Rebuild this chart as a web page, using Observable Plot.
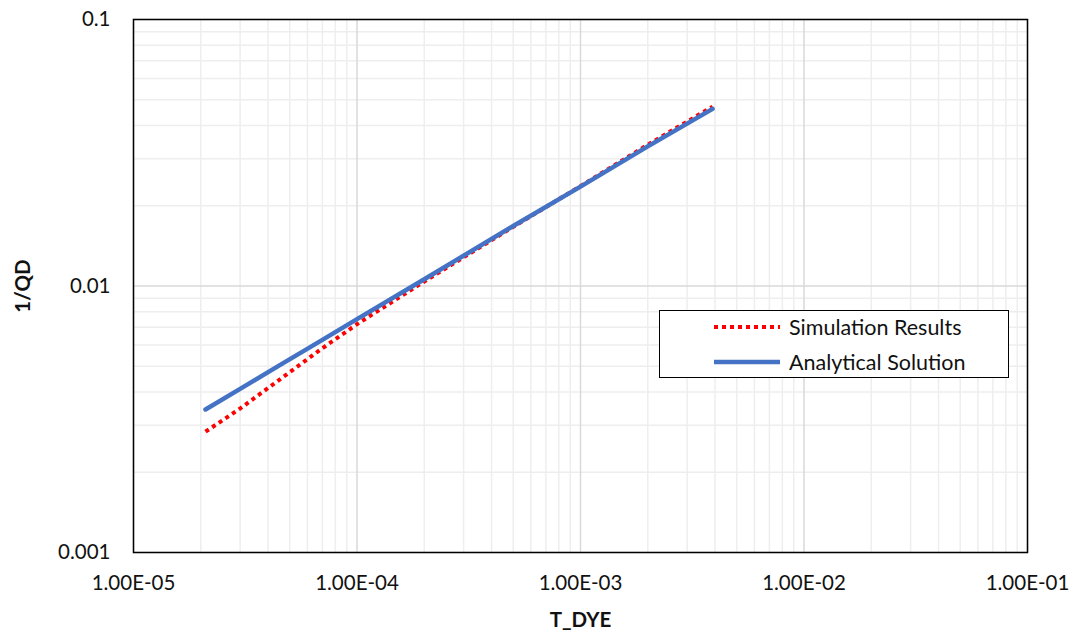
<!DOCTYPE html>
<html>
<head>
<meta charset="utf-8">
<script src="https://cdn.jsdelivr.net/npm/d3@7"></script>
<script src="https://cdn.jsdelivr.net/npm/@observablehq/plot@0.6"></script>
<style>
  body { margin: 0; background: #fff; font-family: Lato, "Open Sans", sans-serif; }
  #wrap { position: relative; width: 1076px; height: 635px; }
  #chart svg g[aria-label="x-axis label"] text,
  #chart svg g[aria-label="y-axis label"] text { font-weight: bold; font-size: 20.5px; }
  #legend { position: absolute; left: 659px; top: 310px; width: 348px; height: 66px;
            border: 1.5px solid #000; background: #fff; font-size: 21.5px; color: #111; }
  .row { position: absolute; left: 54px; display: flex; align-items: center; }
  .row svg { margin-right: 9px; }
</style>
</head>
<body>
<div id="wrap">
  <div id="chart"></div>
  <div id="legend">
    <div class="row" style="top:3px"><svg width="66" height="24"><line x1="0" y1="12" x2="66" y2="12" stroke="#ff0000" stroke-width="4" stroke-dasharray="4 4"/></svg><span id="lg0"></span></div>
    <div class="row" style="top:38px"><svg width="66" height="24"><line x1="0" y1="12" x2="66" y2="12" stroke="#4472c4" stroke-width="4.5"/></svg><span id="lg1"></span></div>
  </div>
</div>
<script>
// Series names
const seriesNames = ["Simulation Results", "Analytical Solution"];

// Simulation results (T_DYE, 1/QD)
const simT = [2.1e-5, 3e-5, 4.4e-5, 7e-5, 1e-4, 2e-4, 5e-4, 1e-3, 2e-3, 3.9e-3];
const simQ = [0.00284, 0.00347, 0.00439, 0.00584, 0.00719, 0.0104, 0.01667, 0.0237, 0.0339, 0.0471];

// Analytical solution
const anaT = [2.1e-5, 3e-5, 4.4e-5, 7e-5, 1e-4, 2e-4, 5e-4, 1e-3, 2e-3, 3.9e-3];
const anaQ = [0.00344, 0.00411, 0.00498, 0.00628, 0.00751, 0.0106, 0.0168, 0.0236, 0.0334, 0.0462];

// Axis ticks
const xTicks = [1e-5, 1e-4, 1e-3, 1e-2, 1e-1];
const xTickLabels = ["1.00E-05", "1.00E-04", "1.00E-03", "1.00E-02", "1.00E-01"];
const yTicks = [0.001, 0.01, 0.1];
const yTickLabels = ["0.001", "0.01", "0.1"];
const minorMult = [2, 3, 4, 5, 6, 7, 8, 9];

const xMinor = xTicks.slice(0, -1).flatMap(d => minorMult.map(m => d * m));
const yMinor = yTicks.slice(0, -1).flatMap(d => minorMult.map(m => d * m));

const sim = simT.map((t, i) => ({t, q: simQ[i]}));
const ana = anaT.map((t, i) => ({t, q: anaQ[i]}));

document.getElementById("lg0").textContent = seriesNames[0];
document.getElementById("lg1").textContent = seriesNames[1];

const xLabelOf = d => xTickLabels[xTicks.findIndex(v => Math.abs(Math.log10(v) - Math.log10(d)) < 1e-6)];
const yLabelOf = d => yTickLabels[yTicks.findIndex(v => Math.abs(Math.log10(v) - Math.log10(d)) < 1e-6)];

const chart = Plot.plot({
  width: 1076,
  height: 635,
  marginLeft: 133,
  marginRight: 49,
  marginTop: 19,
  marginBottom: 83,
  style: {fontFamily: "Lato, 'Open Sans', sans-serif", fontSize: "20.5px", color: "#111", background: "#fff"},
  x: {type: "log", domain: [1e-5, 1e-1]},
  y: {type: "log", domain: [0.001, 0.1]},
  marks: [
    Plot.ruleX(xMinor, {stroke: "#eeeeee", strokeWidth: 1.5}),
    Plot.ruleY(yMinor, {stroke: "#eeeeee", strokeWidth: 1.5}),
    Plot.ruleX(xTicks, {stroke: "#d9d9d9", strokeWidth: 1.5}),
    Plot.ruleY(yTicks, {stroke: "#d9d9d9", strokeWidth: 1.5}),
    Plot.line(sim, {x: "t", y: "q", stroke: "#ff0000", strokeWidth: 4, strokeDasharray: "4 4", strokeLinecap: "butt"}),
    Plot.line(ana, {x: "t", y: "q", stroke: "#4472c4", strokeWidth: 4.5}),
    Plot.frame({stroke: "#000", strokeWidth: 1.5}),
    Plot.axisX({ticks: xTicks, tickSize: 0, tickPadding: 23, tickFormat: xLabelOf,
      label: "T_DYE", labelAnchor: "center", labelArrow: "none", labelOffset: 74}),
    Plot.axisY({ticks: yTicks, tickSize: 0, tickPadding: 23, tickFormat: yLabelOf,
      label: "1/QD", labelAnchor: "center", labelArrow: "none", labelOffset: 118})
  ]
});
document.getElementById("chart").appendChild(chart);
</script>
</body>
</html>
